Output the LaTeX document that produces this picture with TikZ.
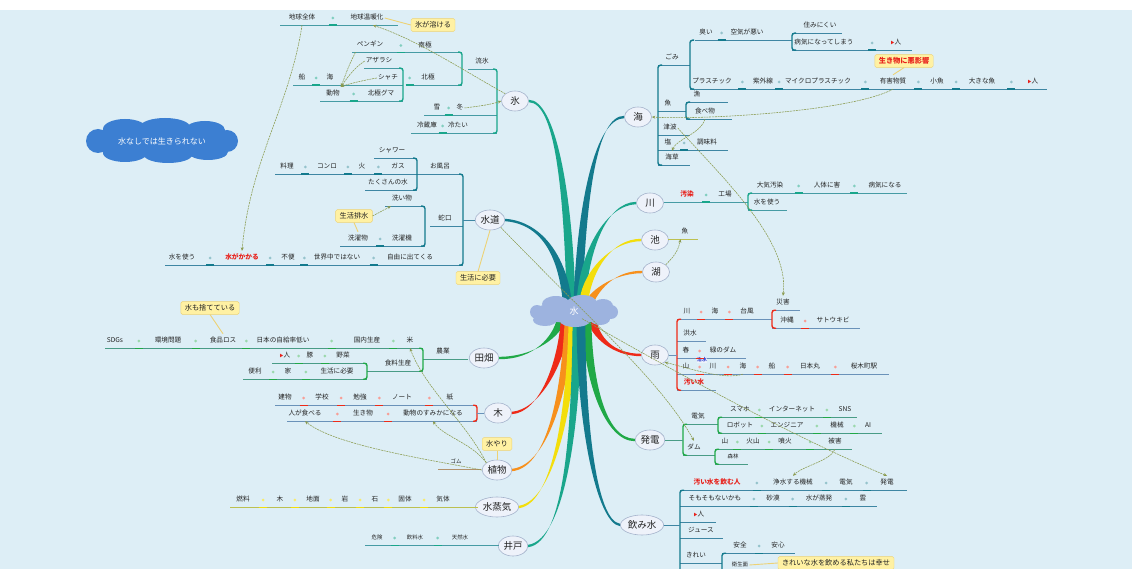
\documentclass[tikz,border=0pt]{standalone}
\usepackage{fontspec}
\setmainfont{Noto Sans CJK JP}
\usetikzlibrary{
  shapes.geometric,
  arrows.meta,
  calc
}
\definecolor{bgc}{HTML}{DDEEF6}
\definecolor{colT}{HTML}{19A68B}
\definecolor{colD}{HTML}{137A8D}
\definecolor{colG}{HTML}{20A947}
\definecolor{colR}{HTML}{EE2A18}
\definecolor{colO}{HTML}{F7901C}
\definecolor{colY}{HTML}{F3DE0C}
\definecolor{ulg}{HTML}{6A92B9}
\definecolor{topicfill}{HTML}{EEF2FA}
\definecolor{topicline}{HTML}{A4B2CB}
\definecolor{hubc}{HTML}{9DB3DF}
\definecolor{mottoc}{HTML}{3C7FD2}
\definecolor{notefill}{HTML}{FFF1A3}
\definecolor{noteline}{HTML}{EDD275}
\definecolor{linkc}{HTML}{8A9A4E}
\definecolor{inkc}{HTML}{222222}
\definecolor{hotred}{HTML}{E8201A}
\definecolor{tagblue}{HTML}{2D3FD0}
\colorlet{ulT}{colT!45!ulg}
\colorlet{ulD}{colD!50!ulg}
\colorlet{ulG}{colG!45!ulg}
\colorlet{ulO}{colO!50!ulg}
\colorlet{ulY}{colY!60!ulg}
\tikzset{
  topic/.style={
    ellipse, draw=topicline, fill=topicfill, line width=0.6pt,
    inner sep=1pt, minimum width=27pt, minimum height=20pt,
    font=\fontsize{9.5}{10}\selectfont, text=inkc
  },
  leaf/.style={
    inner xsep=1pt, inner ysep=3.8pt, text height=5pt, text depth=1.4pt,
    font=\fontsize{6.6}{7}\selectfont, text=inkc
  },
  smallleaf/.style={leaf, font=\fontsize{5.4}{6}\selectfont},
  hot/.style={leaf, text=hotred, font=\fontsize{6.7}{7}\selectfont\bfseries},
  tag/.style={inner sep=0.5pt, font=\fontsize{4.8}{5}\selectfont\bfseries, text=tagblue, fill=topicfill},
  callout/.style={
    rectangle, draw=noteline, fill=notefill, rounded corners=1.5pt,
    inner xsep=4pt, inner ysep=3pt, font=\fontsize{7.2}{8}\selectfont, text=inkc
  },
  link/.style={draw=linkc, line width=0.55pt, dash pattern=on 2pt off 0.8pt, -{Stealth[length=3.5pt, width=3pt]}},
  uline/.style={draw=#1, line width=0.8pt},
  brace/.style={draw=#1, line width=1.4pt, rounded corners=2.5pt},
  tie/.style={draw=noteline, line width=0.9pt},
}
% tapered main branch: colour, topic anchor, control 1, control 2, hub end
\newcommand\mmbranch[5]{\fill[#1] ($#2+(0,-1.2)$) .. controls ($#3+(0,-1.3)$) and ($#4+(4.4,0)$) .. ($#5+(4.4,0)$)
  -- ($#5+(-4.4,0)$) .. controls ($#4+(-4.4,0)$) and ($#3+(0,1.3)$) .. ($#2+(0,1.2)$) -- cycle;}
% underline of a chain, level taken from a leaf
\newcommand\mmline[4]{\draw[uline=#1] (#2,0 |- #4.south) -- (#3,0 |- #4.south);}
% bracket: colour, x, hook x, top leaf, bottom leaf
\newcommand\mmbrk[5]{\draw[brace=#1] (#3,0 |- #4.south) -- (#2,0 |- #4.south) -- (#2,0 |- #5.south) -- (#3,0 |- #5.south);}
% joining dot between two leaves of a chain
\newcommand\mmdot[4]{\fill[#1] ($(#3.east)!.5!(#4.west)$) circle (1.5pt);
  \draw[#2, line width=1.4pt] ($(#3.south east)!.5!(#4.south west)$) +(-4,0) -- +(4,0);}
\newcommand\flagmark{{\color{hotred}\fontsize{4}{4}\selectfont ▶}}

\begin{document}
\begin{tikzpicture}[x=1pt, y=-1pt]
\useasboundingbox (0,0) rectangle (1132,569);
\fill[white] (0,0) rectangle (1132,569);
\fill[bgc] (0,10) rectangle (1132,569);

% Topics
\node[topic] (ice) at (515,101) {氷};
\node[topic] (shuidao) at (490,220) {水道};
\node[topic] (tianbo) at (484,358) {田畑};
\node[topic] (tree) at (498,413) {木};
\node[topic] (plant) at (497,470) {植物};
\node[topic] (steam) at (497,507) {水蒸気};
\node[topic] (well) at (513,546) {井戸};
\node[topic] (umi) at (638,117) {海};
\node[topic] (kawa) at (650,203) {川};
\node[topic] (ike) at (655,240) {池};
\node[topic] (ko) at (656,272) {湖};
\node[topic] (rain) at (655,355) {雨};
\node[topic] (power) at (650,440) {発電};
\node[topic] (drink) at (642,525) {飲み水};

% Branch ends inside the hub
\coordinate (hIce) at (571,300);
\coordinate (hTap) at (567,300);
\coordinate (hUmi) at (578,300);
\coordinate (hKawa) at (581,300);
\coordinate (hIke) at (584,300);
\coordinate (hKo) at (589,303);
\coordinate (hTa) at (561,320);
\coordinate (hTree) at (565,322);
\coordinate (hPlant) at (569,322);
\coordinate (hSteam) at (573,322);
\coordinate (hWell) at (577,322);
\coordinate (hRain) at (592,320);
\coordinate (hPow) at (587,322);
\coordinate (hDrink) at (581,322);

% Main branches
\mmbranch{colT}{(ice.east)}{(555,101)}{(568,190)}{(hIce)}
\mmbranch{colD}{(shuidao.east)}{(545,223)}{(563,262)}{(hTap)}
\mmbranch{colD}{(umi.west)}{(596,117)}{(582,200)}{(hUmi)}
\mmbranch{colT}{(kawa.west)}{(606,204)}{(585,250)}{(hKawa)}
\mmbranch{colY}{(ike.west)}{(612,240)}{(588,270)}{(hIke)}
\mmbranch{colO}{(ko.west)}{(616,272)}{(596,288)}{(hKo)}
\mmbranch{colG}{(tianbo.east)}{(535,358)}{(557,336)}{(hTa)}
\mmbranch{colR}{(tree.east)}{(540,411)}{(562,362)}{(hTree)}
\mmbranch{colO}{(plant.east)}{(550,466)}{(566,382)}{(hPlant)}
\mmbranch{colY}{(steam.east)}{(555,502)}{(571,400)}{(hSteam)}
\mmbranch{colT}{(well.east)}{(566,541)}{(576,420)}{(hWell)}
\mmbranch{colR}{(rain.west)}{(612,355)}{(595,336)}{(hRain)}
\mmbranch{colG}{(power.west)}{(605,440)}{(588,380)}{(hPow)}
\mmbranch{colD}{(drink.west)}{(596,522)}{(581,420)}{(hDrink)}

% Clouds
\fill[hubc] (574,312) ellipse [x radius=40pt, y radius=11pt]
  (556,304) ellipse [x radius=14pt, y radius=8pt] (582,303) ellipse [x radius=15pt, y radius=8pt]
  (603,306) ellipse [x radius=10pt, y radius=7pt]
  (545,320) ellipse [x radius=12pt, y radius=6pt] (575,321) ellipse [x radius=15pt, y radius=6pt]
  (600,319) ellipse [x radius=10pt, y radius=6pt]
  (537,312) circle (7pt) (611,312) circle (7pt);
\node[text=white, font=\fontsize{9}{9}\selectfont] (water) at (574,311) {水};
\fill[mottoc] (162,141) ellipse [x radius=70pt, y radius=17pt]
  (125,129) ellipse [x radius=22pt, y radius=10pt] (165,127) ellipse [x radius=25pt, y radius=9pt]
  (205,130) ellipse [x radius=20pt, y radius=9pt]
  (125,153) ellipse [x radius=22pt, y radius=9pt] (168,155) ellipse [x radius=24pt, y radius=8pt]
  (208,152) ellipse [x radius=20pt, y radius=8pt]
  (98,141) circle (12pt) (227,141) circle (11pt);
\node[text=white, font=\fontsize{8}{8}\selectfont] (motto) at (162,141) {水なしでは生きられない};

% Leaves: 氷
\node[leaf] (k1) at (302,18) {地球全体};
\node[leaf] (k2) at (367,18) {地球温暖化};
\node[leaf] (k3) at (370,45) {ペンギン};
\node[leaf] (k4) at (425,46) {南極};
\node[leaf] (k5) at (482,62) {流氷};
\node[leaf] (k6) at (379,61) {アザラシ};
\node[leaf] (k7) at (388,78) {シャチ};
\node[leaf] (k8) at (428,78) {北極};
\node[leaf] (k9) at (302,78) {船};
\node[leaf] (k10) at (330,78) {海};
\node[leaf] (k11) at (333,94) {動物};
\node[leaf] (k12) at (381,94) {北極グマ};
\node[leaf] (k13) at (437,108) {雪};
\node[leaf] (k14) at (460,108) {冬};
\node[leaf] (k15) at (427,126) {冷蔵庫};
\node[leaf] (k16) at (458,126) {冷たい};
\mmline{ulT}{280}{398}{k1}
\mmline{ulT}{352}{462}{k3}
\mmline{ulT}{468}{497}{k5}
\mmline{ulT}{364}{403}{k6}
\mmline{ulT}{293}{403}{k9}
\mmline{ulT}{410}{462}{k8}
\mmline{ulT}{320}{403}{k11}
\mmline{ulT}{424}{497}{k13}
\mmline{ulT}{411}{497}{k15}
\mmbrk{colT}{403}{399}{k6}{k11}
\mmbrk{colT}{462}{458}{k3}{k8}
\mmbrk{colT}{497}{493}{k5}{k15}
\mmdot{colT!55}{colT}{k1}{k2}
\mmdot{colT!55}{colT}{k3}{k4}
\mmdot{colT!55}{colT}{k7}{k8}
\mmdot{colT!55}{colT}{k9}{k10}
\mmdot{colT!55}{colT}{k11}{k12}
\mmdot{colT!55}{colT}{k13}{k14}
\mmdot{colT!55}{colT}{k15}{k16}

% Leaves: 水道
\node[leaf] (s1) at (392,151) {シャワー};
\node[leaf] (s2) at (287,167) {料理};
\node[leaf] (s3) at (327,167) {コンロ};
\node[leaf] (s4) at (362,167) {火};
\node[leaf] (s5) at (398,167) {ガス};
\node[leaf] (s6) at (440,167) {お風呂};
\node[leaf] (s7) at (388,183) {たくさんの水};
\node[leaf] (s8) at (402,199) {洗い物};
\node[leaf] (s9) at (445,219) {蛇口};
\node[leaf] (s10) at (358,239) {洗濯物};
\node[leaf] (s11) at (402,239) {洗濯機};
\node[leaf] (s12) at (182,258) {水を使う};
\node[hot] (s13) at (242,258) {水がかかる};
\node[leaf] (s14) at (288,258) {不便};
\node[leaf] (s15) at (337,258) {世界中ではない};
\node[leaf] (s16) at (410,258) {自由に出てくる};
\mmline{ulD}{374}{417}{s1}
\mmline{ulD}{275}{463}{s2}
\mmline{ulD}{365}{417}{s7}
\mmline{ulD}{385}{425}{s8}
\mmline{ulD}{430}{463}{s9}
\mmline{ulD}{340}{425}{s10}
\mmline{ulD}{165}{463}{s12}
\mmbrk{colD}{417}{413}{s1}{s7}
\mmbrk{colD}{425}{421}{s8}{s10}
\mmbrk{colD}{463}{459}{s2}{s12}
\draw[uline=ulD] (shuidao.west) -- (463,0 |- shuidao.west);
\mmdot{colD!45}{colD}{s2}{s3}
\mmdot{colD!45}{colD}{s3}{s4}
\mmdot{colD!45}{colD}{s4}{s5}
\mmdot{colD!45}{colD}{s10}{s11}
\mmdot{colD!45}{colD}{s12}{s13}
\mmdot{colD!45}{colD}{s13}{s14}
\mmdot{colD!45}{colD}{s14}{s15}
\mmdot{colD!45}{colD}{s15}{s16}

% Leaves: 田畑
\node[leaf] (f1) at (115,341) {SDGs};
\node[leaf] (f2) at (168,341) {環境問題};
\node[leaf] (f3) at (223,341) {食品ロス};
\node[leaf] (f4) at (283,341) {日本の自給率低い};
\node[leaf] (f5) at (367,341) {国内生産};
\node[leaf] (f6) at (410,341) {米};
\node[leaf] (f7) at (443,352) {農業};
\node[leaf] (f8) at (285,356) {\flagmark 人};
\node[leaf] (f9) at (310,356) {豚};
\node[leaf] (f10) at (343,356) {野菜};
\node[leaf] (f11) at (398,364) {食料生産};
\node[leaf] (f12) at (255,372) {便利};
\node[leaf] (f13) at (288,372) {家};
\node[leaf] (f14) at (337,372) {生活に必要};
\mmline{ulG}{105}{423}{f1}
\mmline{ulG}{423}{468}{f7}
\mmline{ulG}{272}{367}{f8}
\mmline{ulG}{367}{423}{f11}
\mmline{ulG}{243}{367}{f12}
\mmbrk{colG}{423}{419}{f1}{f11}
\mmbrk{colG}{367}{363}{f8}{f12}
\mmdot{colG!45}{colG}{f1}{f2}
\mmdot{colG!45}{colG}{f2}{f3}
\mmdot{colG!45}{colG}{f3}{f4}
\mmdot{colG!45}{colG}{f4}{f5}
\mmdot{colG!45}{colG}{f5}{f6}
\mmdot{colG!45}{colG}{f8}{f9}
\mmdot{colG!45}{colG}{f9}{f10}
\mmdot{colG!45}{colG}{f12}{f13}
\mmdot{colG!45}{colG}{f13}{f14}

% Leaves: 木
\node[leaf] (m1) at (285,398) {建物};
\node[leaf] (m2) at (322,398) {学校};
\node[leaf] (m3) at (360,398) {勉強};
\node[leaf] (m4) at (402,398) {ノート};
\node[leaf] (m5) at (450,398) {紙};
\node[leaf] (m6) at (305,414) {人が食べる};
\node[leaf] (m7) at (363,414) {生き物};
\node[leaf] (m8) at (433,414) {動物のすみかになる};
\mmline{ulg}{275}{477}{m1}
\mmline{ulg}{287}{477}{m6}
\mmbrk{colR}{477}{473}{m1}{m6}
\draw[uline=ulg] (tree.west) -- (477,0 |- tree.west);
\mmdot{colR!45}{colR}{m1}{m2}
\mmdot{colR!45}{colR}{m2}{m3}
\mmdot{colR!45}{colR}{m3}{m4}
\mmdot{colR!45}{colR}{m4}{m5}
\mmdot{colR!45}{colR}{m6}{m7}
\mmdot{colR!45}{colR}{m7}{m8}

% Leaves: 植物, 水蒸気, 井戸
\node[smallleaf] (p1) at (456,462) {ゴム};
\mmline{ulO}{438}{481}{p1}
\node[leaf] (v1) at (243,500) {燃料};
\node[leaf] (v2) at (280,500) {木};
\node[leaf] (v3) at (313,500) {地面};
\node[leaf] (v4) at (345,500) {岩};
\node[leaf] (v5) at (375,500) {石};
\node[leaf] (v6) at (405,500) {固体};
\node[leaf] (v7) at (443,500) {気体};
\mmline{ulY}{230}{478}{v1}
\mmdot{colY!60}{colY}{v1}{v2}
\mmdot{colY!60}{colY}{v2}{v3}
\mmdot{colY!60}{colY}{v3}{v4}
\mmdot{colY!60}{colY}{v4}{v5}
\mmdot{colY!60}{colY}{v5}{v6}
\mmdot{colY!60}{colY}{v6}{v7}
\node[smallleaf] (w1) at (377,538) {危険};
\node[smallleaf] (w2) at (415,538) {飲料水};
\node[smallleaf] (w3) at (460,538) {天然水};
\mmline{ulT}{365}{499}{w1}
\mmdot{colT!55}{colT}{w1}{w2}
\mmdot{colT!55}{colT}{w2}{w3}

% Leaves: 海
\node[leaf] (u1) at (706,33) {臭い};
\node[leaf] (u2) at (747,33) {空気が悪い};
\node[leaf] (u3) at (820,26) {住みにくい};
\node[leaf] (u4) at (824,43) {病気になってしまう};
\node[leaf] (u5) at (896,43) {\flagmark 人};
\node[leaf] (u6) at (672,58) {ごみ};
\node[leaf] (u7) at (712,82) {プラスチック};
\node[leaf] (u8) at (763,82) {紫外線};
\node[leaf] (u9) at (818,82) {マイクロプラスチック};
\node[leaf] (u10) at (893,82) {有害物質};
\node[leaf] (u11) at (937,82) {小魚};
\node[leaf] (u12) at (982,82) {大きな魚};
\node[leaf] (u13) at (1033,82) {\flagmark 人};
\node[leaf] (u14) at (697,95) {漁};
\node[leaf] (u15) at (668,104) {魚};
\node[leaf] (u16) at (705,112) {食べ物};
\node[leaf] (u17) at (670,128) {津波};
\node[leaf] (u18) at (668,143) {塩};
\node[leaf] (u19) at (707,143) {調味料};
\node[leaf] (u20) at (672,158) {海草};
\mmline{ulD}{695}{792}{u1}
\mmline{ulD}{792}{842}{u3}
\mmline{ulD}{792}{912}{u4}
\mmline{ulD}{658}{690}{u6}
\mmline{ulD}{690}{1047}{u7}
\mmline{ulD}{686}{728}{u14}
\mmline{ulD}{658}{686}{u15}
\mmline{ulD}{686}{732}{u16}
\mmline{ulD}{658}{690}{u17}
\mmline{ulD}{658}{728}{u18}
\mmline{ulD}{658}{690}{u20}
\mmbrk{colD}{792}{796}{u3}{u4}
\mmbrk{colD}{690}{694}{u1}{u7}
\mmbrk{colD}{686}{690}{u14}{u16}
\mmbrk{colD}{658}{662}{u6}{u20}
\mmdot{colD!45}{colD}{u1}{u2}
\mmdot{colD!45}{colD}{u4}{u5}
\mmdot{colD!45}{colD}{u7}{u8}
\mmdot{colD!45}{colD}{u8}{u9}
\mmdot{colD!45}{colD}{u9}{u10}
\mmdot{colD!45}{colD}{u10}{u11}
\mmdot{colD!45}{colD}{u11}{u12}
\mmdot{colD!45}{colD}{u12}{u13}
\mmdot{colD!45}{colD}{u18}{u19}

% Leaves: 川, 池
\node[hot] (r1) at (687,195) {汚染};
\node[leaf] (r2) at (725,195) {工場};
\node[leaf] (r3) at (770,186) {大気汚染};
\node[leaf] (r4) at (827,186) {人体に害};
\node[leaf] (r5) at (885,186) {病気になる};
\node[leaf] (r6) at (767,203) {水を使う};
\mmline{ulT}{664}{748}{r1}
\mmline{ulT}{748}{907}{r3}
\mmline{ulT}{748}{787}{r6}
\mmbrk{colT}{748}{752}{r3}{r6}
\mmdot{colT!55}{colT}{r1}{r2}
\mmdot{colT!55}{colT}{r3}{r4}
\mmdot{colT!55}{colT}{r4}{r5}
\node[leaf] (i1) at (685,232) {魚};
\mmline{ulY}{668}{698}{i1}

% Leaves: 雨
\node[leaf] (a1) at (783,303) {災害};
\node[leaf] (a2) at (687,312) {川};
\node[leaf] (a3) at (715,312) {海};
\node[leaf] (a4) at (747,312) {台風};
\node[leaf] (a5) at (787,321) {沖縄};
\node[leaf] (a6) at (833,321) {サトウキビ};
\node[leaf] (a7) at (690,334) {洪水};
\node[leaf] (a8) at (686,351) {春};
\node[leaf] (a9) at (723,351) {緑のダム};
\node[leaf] (a11) at (686,367) {山};
\node[leaf] (a12) at (713,367) {川};
\node[leaf] (a13) at (743,367) {海};
\node[leaf] (a14) at (772,367) {船};
\node[leaf] (a15) at (810,367) {日本丸};
\node[leaf] (a16) at (864,367) {桜木町駅};
\node[hot] (a17) at (694,383) {汚い水};
\mmline{ulg}{772}{800}{a1}
\mmline{ulg}{677}{772}{a2}
\mmline{ulg}{772}{860}{a5}
\mmline{ulg}{677}{706}{a7}
\mmline{ulg}{677}{746}{a8}
\mmline{ulg}{677}{889}{a11}
\mmline{ulg}{677}{716}{a17}
\mmbrk{colR}{772}{776}{a1}{a5}
\mmbrk{colR}{677}{681}{a2}{a17}
\draw[uline=ulg] (rain.east) -- (677,0 |- rain.east);
\node[tag] (a10) at (702,360) {治水};
\mmdot{colR!45}{colR}{a2}{a3}
\mmdot{colR!45}{colR}{a3}{a4}
\mmdot{colR!45}{colR}{a5}{a6}
\mmdot{colR!45}{colR}{a8}{a9}
\mmdot{colR!45}{colR}{a11}{a12}
\mmdot{colR!45}{colR}{a12}{a13}
\mmdot{colR!45}{colR}{a13}{a14}
\mmdot{colR!45}{colR}{a14}{a15}
\mmdot{colR!45}{colR}{a15}{a16}

% Leaves: 発電
\node[leaf] (e1) at (698,417) {電気};
\node[leaf] (e2) at (740,410) {スマホ};
\node[leaf] (e3) at (792,410) {インターネット};
\node[leaf] (e4) at (845,410) {SNS};
\node[leaf] (e5) at (740,426) {ロボット};
\node[leaf] (e6) at (787,426) {エンジニア};
\node[leaf] (e7) at (837,426) {機械};
\node[leaf] (e8) at (868,426) {AI};
\node[leaf] (e9) at (725,442) {山};
\node[leaf] (e10) at (753,442) {火山};
\node[leaf] (e11) at (785,442) {噴火};
\node[leaf] (e12) at (835,442) {被害};
\node[leaf] (e13) at (694,448) {ダム};
\node[smallleaf] (e14) at (733,457) {森林};
\mmline{ulG}{683}{718}{e1}
\mmline{ulG}{718}{857}{e2}
\mmline{ulG}{718}{882}{e5}
\mmline{ulG}{715}{852}{e9}
\mmline{ulG}{683}{715}{e13}
\mmline{ulG}{715}{748}{e14}
\mmbrk{colG}{718}{722}{e2}{e5}
\mmbrk{colG}{715}{719}{e9}{e14}
\mmbrk{colG}{683}{687}{e1}{e13}
\draw[uline=ulG] (power.east) -- (683,0 |- power.east);
\mmdot{colG!45}{colG}{e2}{e3}
\mmdot{colG!45}{colG}{e3}{e4}
\mmdot{colG!45}{colG}{e5}{e6}
\mmdot{colG!45}{colG}{e6}{e7}
\mmdot{colG!45}{colG}{e7}{e8}
\mmdot{colG!45}{colG}{e9}{e10}
\mmdot{colG!45}{colG}{e10}{e11}
\mmdot{colG!45}{colG}{e11}{e12}

% Leaves: 飲み水
\node[hot] (d1) at (717,483) {汚い水を飲む人};
\node[leaf] (d2) at (793,483) {浄水する機械};
\node[leaf] (d3) at (846,483) {電気};
\node[leaf] (d4) at (887,483) {発電};
\node[leaf] (d5) at (715,499) {そもそもないかも};
\node[leaf] (d6) at (773,499) {砂漠};
\node[leaf] (d7) at (819,499) {水が蒸発};
\node[leaf] (d8) at (863,499) {雲};
\node[leaf] (d9) at (699,515) {\flagmark 人};
\node[leaf] (d10) at (701,531) {ジュース};
\node[leaf] (d11) at (740,546) {安全};
\node[leaf] (d12) at (778,546) {安心};
\node[leaf] (d13) at (696,556) {きれい};
\node[smallleaf] (d14) at (740,565) {衛生面};
\mmline{ulD}{680}{907}{d1}
\mmline{ulD}{680}{877}{d5}
\mmline{ulD}{680}{716}{d9}
\mmline{ulD}{680}{723}{d10}
\mmline{ulD}{722}{795}{d11}
\mmline{ulD}{680}{722}{d13}
\mmline{ulD}{722}{765}{d14}
\mmbrk{colD}{680}{684}{d1}{d14}
\mmbrk{colD}{722}{726}{d11}{d14}
\draw[uline=ulD] (drink.east) -- (680,0 |- drink.east);
\mmdot{colD!45}{colD}{d1}{d2}
\mmdot{colD!45}{colD}{d2}{d3}
\mmdot{colD!45}{colD}{d3}{d4}
\mmdot{colD!45}{colD}{d5}{d6}
\mmdot{colD!45}{colD}{d6}{d7}
\mmdot{colD!45}{colD}{d7}{d8}
\mmdot{colD!45}{colD}{d11}{d12}

% Cross links
\draw[link] (ice.north west) .. controls +(-45,-25) and +(45,15) .. ([xshift=6pt]k2.south);
\draw[link] (k14.east) .. controls +(15,-2) and +(-12,4) .. (ice.west);
\draw[link] (k1.south) .. controls +(-12,80) and +(8,-90) .. (s13.north);
\draw[link] (k3.south west) .. controls +(-8,15) and +(5,-12) .. (k11.north east);
\draw[link] (k6.west) .. controls +(-12,8) and +(6,-8) .. (k11.north east);
\draw[link] (k7.west) .. controls +(-12,2) and +(8,-3) .. (k11.north east);
\draw[link] (shuidao.south east) .. controls (590,320) and (660,380) .. (e13.north);
\draw[link] (water.south east) .. controls (680,375) and (800,440) .. (d4.north);
\draw[link] (e12.south) .. controls +(-5,12) and +(10,-10) .. (d2.north);
\draw[link] (a13.south) .. controls +(-20,6) and +(25,6) .. (rain.south east);
\draw[link] (u10.south) .. controls (850,112) and (700,120) .. (umi.east);
\draw[link] (u16.south) .. controls +(-5,15) and +(5,-12) .. (u20.north);
\draw[link] (u17.east) .. controls (720,175) and (790,240) .. (a1.north);
\draw[link] (ko.north east) .. controls +(10,-10) and +(-2,10) .. (i1.south west);
\draw[link] (plant.north west) .. controls +(-20,-40) and +(15,40) .. (f6.south);
\draw[link] (plant.west) .. controls (420,458) and (335,445) .. (m6.south);
\draw[link] (plant.north west) .. controls +(-15,-20) and +(10,15) .. (m8.south);

% Callouts
\node[callout] (nk) at (433,25) {氷が溶ける};
\node[callout] (gh) at (354,216) {生活排水};
\node[callout] (nd) at (478,278) {生活に必要};
\node[callout] (nf) at (210,308) {水も捨てている};
\node[callout] (nm) at (497,444) {水やり};
\node[callout, text=hotred, font=\fontsize{7.2}{8}\selectfont\bfseries] (nu) at (904,61) {生き物に悪影響};
\node[callout] (nw) at (836,563) {きれいな水を飲める私たちは幸せ};
\draw[tie] (nk.west) -- (k2.east);
\draw[tie] (gh.south) -- (s10.north);
\draw[tie] (nd.north) -- (shuidao.south);
\draw[tie] (nf.south) -- (f3.north);
\draw[tie] (nm.south) -- (plant.north);
\draw[tie] (nu.south) -- (u10.north);
\draw[tie] (nw.west) -- (d14.east);
\draw[link] (gh.east) -- (s8.south west);
\end{tikzpicture}
\end{document}
